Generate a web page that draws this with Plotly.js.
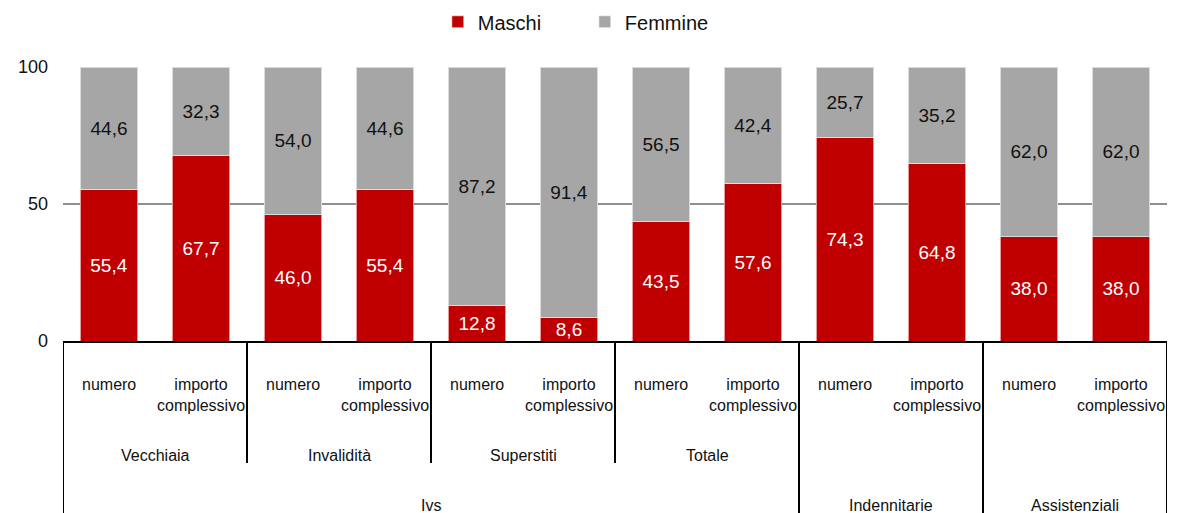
<!DOCTYPE html>
<html>
<head>
<meta charset="utf-8">
<script src="https://cdn.plot.ly/plotly-3.0.1.min.js"></script>
<style>html,body{margin:0;padding:0;background:#fff}#chart{width:1190px;height:513px}</style>
</head>
<body>
<div id="chart"></div>
<script>
// ---- data ----
const subLabels = ['numero','importo<br>complessivo','numero','importo<br>complessivo','numero','importo<br>complessivo',
                   'numero','importo<br>complessivo','numero','importo<br>complessivo','numero','importo<br>complessivo'];
const maschi  = [55.4, 67.7, 46.0, 55.4, 12.8, 8.6, 43.5, 57.6, 74.3, 64.8, 38.0, 38.0];
const femmine = [44.6, 32.3, 54.0, 44.6, 87.2, 91.4, 56.5, 42.4, 25.7, 35.2, 62.0, 62.0];
const midLabels = ['Vecchiaia','Invalidità','Superstiti','Totale'];
const midSpans  = [2, 2, 2, 2];
const topLabels = ['Ivs','Indennitarie','Assistenziali'];
const topSpans  = [8, 2, 2];
const seriesNames = ['Maschi','Femmine'];
const yTicks = [0, 50, 100];

// ---- build ----
const xs = subLabels.map((_, i) => i);
const FONT = '"Liberation Sans", Arial, sans-serif';
const plotH = 274;
const pY = px => -px / plotH; // pixels below the x axis -> paper

const traces = [
  {type:'bar', name:seriesNames[0], x:xs, y:maschi, marker:{color:'#C00000', line:{color:'rgba(255,255,255,0.6)', width:1}},
   texttemplate:'%{y:.1f}', textposition:'inside', insidetextanchor:'middle', constraintext:'none',
   textfont:{color:'#ffffff', size:19, family:FONT}, hoverinfo:'skip'},
  {type:'bar', name:seriesNames[1], x:xs, y:femmine, marker:{color:'#A6A6A6', line:{color:'rgba(255,255,255,0.6)', width:1}},
   texttemplate:'%{y:.1f}', textposition:'inside', insidetextanchor:'middle', constraintext:'none',
   textfont:{color:'#111111', size:19, family:FONT}, hoverinfo:'skip'}
];

const annotations = [];
const shapes = [];
subLabels.forEach((s, i) => annotations.push({xref:'x', yref:'paper', x:i, y:pY(33), yanchor:'top', xanchor:'center',
  text:s, showarrow:false, font:{size:16, family:FONT, color:'#111'}}));

// top-level boundaries
const topBounds = [-0.5];
let acc = -0.5;
topSpans.forEach((sp, k) => {
  annotations.push({xref:'x', yref:'paper', x:acc + sp/2, y:pY(164), yanchor:'middle', xanchor:'center',
    text:topLabels[k], showarrow:false, font:{size:16, family:FONT, color:'#111'}});
  acc += sp; topBounds.push(acc);
});
topBounds.forEach(b => shapes.push({type:'line', xref:'x', yref:'paper', x0:b, x1:b, y0:0, y1:pY(175), line:{color:'#000', width:2}}));

// mid-level
acc = -0.5;
midSpans.forEach((sp, k) => {
  annotations.push({xref:'x', yref:'paper', x:acc + sp/2, y:pY(114), yanchor:'middle', xanchor:'center',
    text:midLabels[k], showarrow:false, font:{size:16, family:FONT, color:'#111'}});
  acc += sp;
  if (!topBounds.some(b => Math.abs(b - acc) < 1e-9)) {
    shapes.push({type:'line', xref:'x', yref:'paper', x0:acc, x1:acc, y0:0, y1:pY(122), line:{color:'#000', width:2}});
  }
});

const layout = {
  width:1190, height:513,
  margin:{l:63, r:23, t:67, b:172, pad:0, autoexpand:false},
  paper_bgcolor:'#fff', plot_bgcolor:'#fff',
  barmode:'stack', bargap:0.37,
  separators:',.',
  font:{family:FONT, color:'#111', size:18},
  showlegend:true,
  legend:{orientation:'h', x:0.3395, xanchor:'left', y:1.165, yanchor:'middle',
          font:{size:20, family:FONT, color:'#111'}, entrywidth:102, entrywidthmode:'pixels',
          itemwidth:30, traceorder:'normal', bgcolor:'rgba(0,0,0,0)'},
  xaxis:{range:[-0.5, 11.5], showticklabels:false, ticks:'', showgrid:false, zeroline:false,
         showline:true, linecolor:'#000', linewidth:2, fixedrange:true},
  yaxis:{range:[0, 100], tickvals:yTicks, ticktext:yTicks.map(String), ticks:'', showgrid:true,
         gridcolor:'#8f8f8f', gridwidth:1.5, zeroline:false, showline:false, ticklabelstandoff:14,
         tickfont:{size:18, family:FONT, color:'#111'}, fixedrange:true},
  annotations, shapes
};

Plotly.newPlot('chart', traces, layout, {displayModeBar:false, staticPlot:true});
</script>
</body>
</html>
